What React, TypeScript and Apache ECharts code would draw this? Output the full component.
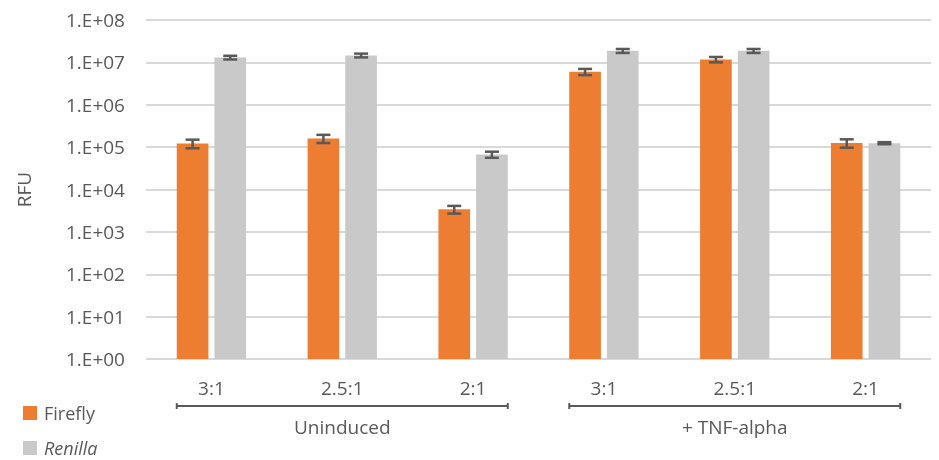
import React, { useEffect, useRef } from "react";
import * as echarts from "echarts";

const categories = ["3:1", "2.5:1", "2:1", "3:1", "2.5:1", "2:1"];
const groups = ["Uninduced", "+ TNF-alpha"];
const groupSpans = [
  [0, 2],
  [3, 5],
];
const fireflyValues = [122000, 160000, 3400, 6000000, 11700000, 125000];
const fireflyErrors = [28000, 35000, 700, 1000000, 1700000, 28000];
const renillaValues = [13000000, 14600000, 67000, 18700000, 18700000, 124000];
const renillaErrors = [1300000, 1500000, 11000, 2000000, 2000000, 7000];

const FONT = "'Open Sans', sans-serif";
const TEXT = "#595959";
const CAT_GAP = 0.47;
const BAR_GAP = 0.19;

function barGeom(api: any) {
  const band = api.coord([1, 1])[0] - api.coord([0, 1])[0];
  const bw = (band * (1 - CAT_GAP)) / (2 + BAR_GAP);
  const off = (bw * (1 + BAR_GAP)) / 2;
  return { band, bw, off };
}

function errorSeries(values: number[], errors: number[], side: number) {
  return {
    type: "custom",
    z: 5,
    clip: false,
    silent: true,
    data: values.map((v, i) => [i, v, errors[i]]),
    encode: { x: 0, y: 1 },
    renderItem: (params: any, api: any) => {
      const i = api.value(0);
      const v = api.value(1);
      const e = api.value(2);
      const { off } = barGeom(api);
      const cx = api.coord([i, v])[0] + side * off;
      const yTop = api.coord([i, v + e])[1];
      const yBot = api.coord([i, v - e])[1];
      const hw = 7;
      const style = { stroke: "#595959", lineWidth: 2.5 };
      return {
        type: "group",
        children: [
          { type: "line", shape: { x1: cx, y1: yTop, x2: cx, y2: yBot }, style },
          { type: "line", shape: { x1: cx - hw, y1: yTop, x2: cx + hw, y2: yTop }, style },
          { type: "line", shape: { x1: cx - hw, y1: yBot, x2: cx + hw, y2: yBot }, style },
        ],
      };
    },
  };
}

export default function App() {
  const ref = useRef<HTMLDivElement>(null);
  useEffect(() => {
    if (!ref.current) return;
    const chart = echarts.init(ref.current, undefined, { renderer: "svg" });
    chart.setOption({
      animation: false,
      textStyle: { fontFamily: FONT },
      grid: { left: 146, right: 8, top: 20, bottom: 101, containLabel: false },
      legend: {
        data: ["Firefly", "Renilla"],
        orient: "vertical",
        left: 23,
        top: 404,
        padding: 0,
        itemWidth: 14,
        itemHeight: 14,
        itemGap: 17,
        icon: "rect",
        selectedMode: false,
        formatter: (name: string) => (name === "Renilla" ? `{i|${name}}` : `{n|${name}}`),
        textStyle: {
          color: TEXT,
          fontSize: 18,
          fontFamily: FONT,
          padding: [0, 0, 0, 2],
          rich: {
            n: { fontSize: 18, color: TEXT, fontFamily: FONT },
            i: { fontSize: 18, color: TEXT, fontFamily: FONT, fontStyle: "italic" },
          },
        },
      },
      xAxis: {
        type: "category",
        data: categories,
        axisLine: { show: false },
        axisTick: { show: false },
        axisLabel: { color: TEXT, fontSize: 19, margin: 19, fontFamily: FONT },
      },
      yAxis: {
        type: "log",
        logBase: 10,
        min: 1,
        max: 100000000,
        name: "RFU",
        nameLocation: "middle",
        nameGap: 113,
        nameRotate: 90,
        nameTextStyle: { color: TEXT, fontSize: 19, fontFamily: FONT },
        axisLine: { show: false },
        axisTick: { show: false },
        splitLine: { lineStyle: { color: "#D9D9D9", width: 2 } },
        axisLabel: {
          color: TEXT,
          fontSize: 19,
          margin: 21,
          fontFamily: FONT,
          formatter: (v: number) => "1.E+" + String(Math.round(Math.log10(v))).padStart(2, "0"),
        },
      },
      series: [
        {
          name: "Firefly",
          type: "bar",
          data: fireflyValues,
          barCategoryGap: `${CAT_GAP * 100}%`,
          barGap: `${BAR_GAP * 100}%`,
          itemStyle: { color: "#ED7D31" },
        },
        {
          name: "Renilla",
          type: "bar",
          data: renillaValues,
          barCategoryGap: `${CAT_GAP * 100}%`,
          barGap: `${BAR_GAP * 100}%`,
          itemStyle: { color: "#C9C9C9" },
        },
        errorSeries(fireflyValues, fireflyErrors, -1),
        errorSeries(renillaValues, renillaErrors, 1),
        {
          type: "custom",
          clip: false,
          silent: true,
          data: groupSpans.map((s) => [s[0], 1, s[1]]),
          encode: { x: [0, 2], y: 1 },
          renderItem: (params: any, api: any) => {
            const a = api.value(0);
            const b = api.value(2);
            const { bw, off } = barGeom(api);
            const x1 = api.coord([a, 1])[0] - off - bw / 2;
            const x2 = api.coord([b, 1])[0] + off + bw / 2;
            const y = api.coord([a, 1])[1] + 47;
            const style = { stroke: "#595959", lineWidth: 2 };
            return {
              type: "group",
              children: [
                { type: "line", shape: { x1, y1: y, x2, y2: y }, style },
                { type: "line", shape: { x1, y1: y - 3, x2: x1, y2: y + 3 }, style },
                { type: "line", shape: { x1: x2, y1: y - 3, x2, y2: y + 3 }, style },
                {
                  type: "text",
                  style: {
                    text: groups[params.dataIndex],
                    x: (x1 + x2) / 2,
                    y: y + 21,
                    align: "center",
                    verticalAlign: "middle",
                    fill: TEXT,
                    fontSize: 19,
                    fontFamily: FONT,
                  },
                },
              ],
            };
          },
        },
      ],
    });
    return () => chart.dispose();
  }, []);
  return (
    <div
      ref={ref}
      style={{ position: "fixed", left: 0, top: 0, width: 939, height: 460, overflow: "hidden" }}
    />
  );
}
